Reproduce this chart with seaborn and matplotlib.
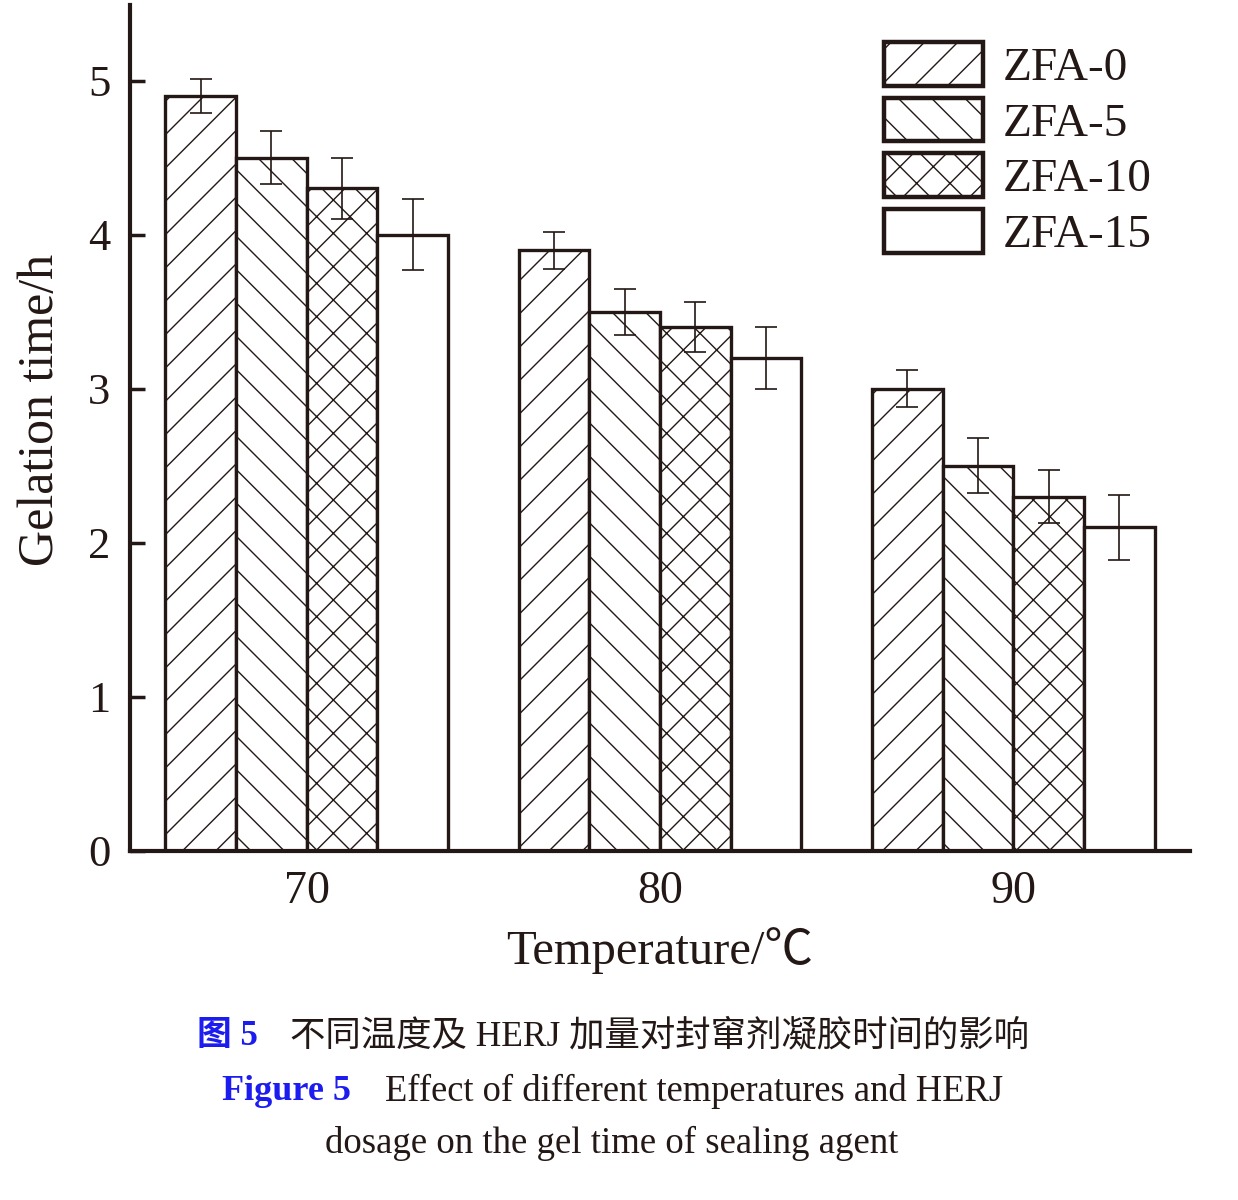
#!/usr/bin/env python3
# -*- coding: utf-8 -*-
"""
Gelation time of the sealing agent vs temperature and HERJ dosage
"""

# %% Import libraries
import matplotlib
matplotlib.use("Agg")
import matplotlib.pyplot as plt
import pandas as pd
import seaborn as sns


# %% Data
temps = ["70", "80", "90"]
dosages = ["ZFA-0", "ZFA-5", "ZFA-10", "ZFA-15"]

zfa0 = [4.9, 3.9, 3.0]
zfa5 = [4.5, 3.5, 2.5]
zfa10 = [4.3, 3.4, 2.3]
zfa15 = [4.0, 3.2, 2.1]

err0 = [0.11, 0.12, 0.12]
err5 = [0.17, 0.15, 0.18]
err10 = [0.20, 0.16, 0.17]
err15 = [0.23, 0.20, 0.21]

values = [zfa0, zfa5, zfa10, zfa15]
errors = [err0, err5, err10, err15]
hatches = ["/", "\\", "x", ""]

rows = []
for name, vals in zip(dosages, values):
    for t, v in zip(temps, vals):
        rows.append({"temp": t, "dosage": name, "time": v})
df = pd.DataFrame(rows)


# %% Style
ink = "#231815"
serif = ["Liberation Serif", "Noto Sans CJK SC", "DejaVu Sans"]

sns.set_style("ticks")
plt.rcParams["font.family"] = serif
plt.rcParams["hatch.linewidth"] = 1.0
plt.rcParams["hatch.color"] = ink
plt.rcParams["text.color"] = ink
plt.rcParams["axes.edgecolor"] = ink
plt.rcParams["xtick.color"] = ink
plt.rcParams["ytick.color"] = ink
plt.rcParams["axes.labelcolor"] = ink


# %% Plot
fig = plt.figure(figsize=(12.38, 12), dpi=100)
ax = fig.add_axes([130 / 1238, 1 - 851 / 1200, (1190 - 130) / 1238, (851 - 5) / 1200])

sns.barplot(data=df, x="temp", y="time", hue="dosage", order=temps,
            hue_order=dosages, palette=["white"] * 4, edgecolor=ink,
            linewidth=2.4, errorbar=None, width=0.8, gap=0, ax=ax)

bar_containers = list(ax.containers)
for cont, hatch, errs in zip(bar_containers, hatches, errors):
    xs, ys = [], []
    for patch in cont.patches:
        patch.set_hatch(hatch)
        patch.set_edgecolor(ink)
        xs.append(patch.get_x() + patch.get_width() / 2)
        ys.append(patch.get_height())
    ax.errorbar(xs, ys, yerr=errs, fmt="none", ecolor=ink, elinewidth=1.2,
                capsize=8, capthick=1.2, zorder=5)

if ax.get_legend() is not None:
    ax.get_legend().remove()

leg = ax.legend([c.patches[0] for c in bar_containers], dosages,
                loc="upper left", bbox_to_anchor=(884 / 1238, 1 - 42 / 1200),
                bbox_transform=fig.transFigure, frameon=False, fontsize=34,
                handlelength=2.1, handleheight=1.05, labelspacing=0.16,
                handletextpad=0.42, borderpad=0, borderaxespad=0)
for h in leg.legend_handles:
    h.set_linewidth(3.2)

ax.set_ylim(0, 5.49)
ax.set_xlim(-0.5, 2.5)
ax.set_yticks([0, 1, 2, 3, 4, 5])
ax.tick_params(axis="y", direction="in", length=11, width=2.5, labelsize=32, pad=14)
ax.tick_params(axis="x", length=0, labelsize=33, pad=14)
for side in ["top", "right"]:
    ax.spines[side].set_visible(False)
for side in ["left", "bottom"]:
    ax.spines[side].set_linewidth(3.0)

ax.set_xlabel("Temperature/\u2103", fontsize=35, labelpad=10)
ax.set_ylabel("Gelation time/h", fontsize=36)
ax.yaxis.set_label_coords(-0.062, (851 - 410) / 846)


# %% Caption
blue = "#1c1cf0"
fig.text(197 / 1238, 1 - 1037 / 1200, "图 5", color=blue, fontsize=25,
         fontweight="bold", family=serif, va="center", ha="left")
fig.text(290 / 1238, 1 - 1037 / 1200, "不同温度及 HERJ 加量对封窜剂凝胶时间的影响",
         fontsize=25.5, family=serif, va="center", ha="left")
fig.text(222 / 1238, 1 - 1091 / 1200, "Figure 5", color=blue, fontsize=26,
         fontweight="bold", family=serif, va="center", ha="left")
fig.text(385 / 1238, 1 - 1091 / 1200, "Effect of different temperatures and HERJ",
         fontsize=26.3, family=serif, va="center", ha="left")
fig.text(612 / 1238, 1 - 1143 / 1200, "dosage on the gel time of sealing agent",
         fontsize=26.5, family=serif, va="center", ha="center")

fig.savefig("out.png", dpi=100, facecolor="white")
